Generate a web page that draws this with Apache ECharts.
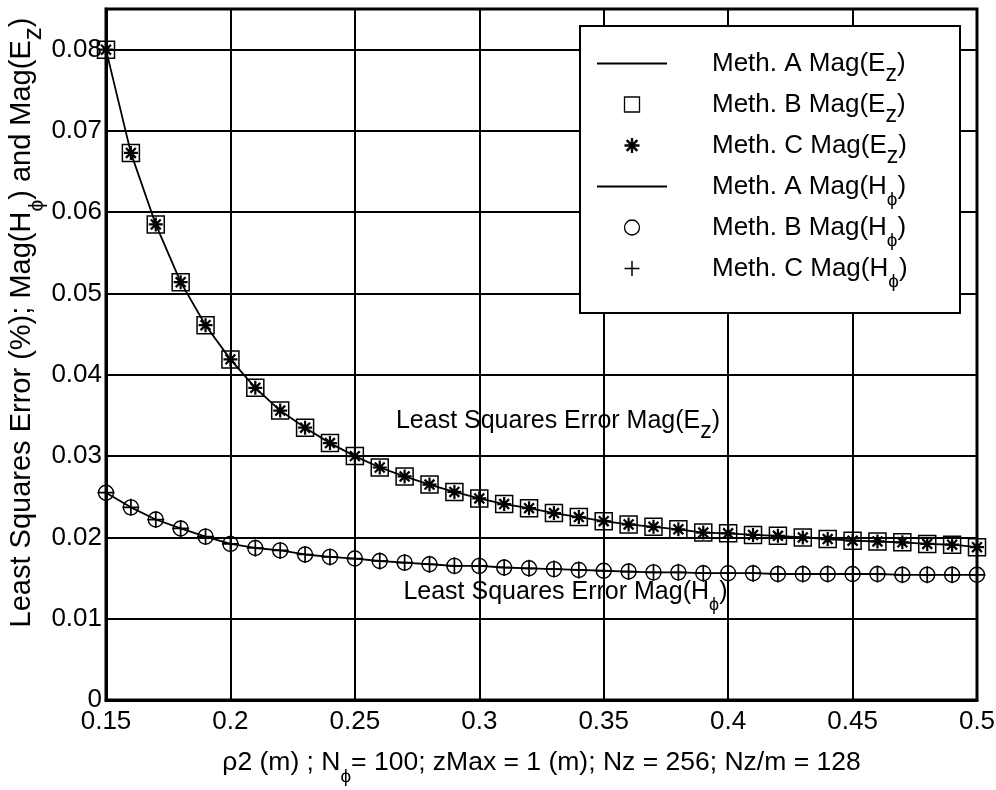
<!DOCTYPE html>
<html>
<head>
<meta charset="utf-8">
<script src="https://cdn.jsdelivr.net/npm/echarts@6/dist/echarts.min.js"></script>
<style>
  html, body { margin: 0; padding: 0; background: #fff; }
  #chart { width: 996px; height: 790px; }
</style>
</head>
<body>
<div id="chart"></div>
<script>
// outer radius rho2 (m)
const rho2 = [0.15, 0.16, 0.17, 0.18, 0.19, 0.20, 0.21, 0.22, 0.23, 0.24, 0.25, 0.26,
              0.27, 0.28, 0.29, 0.30, 0.31, 0.32, 0.33, 0.34, 0.35, 0.36, 0.37, 0.38,
              0.39, 0.40, 0.41, 0.42, 0.43, 0.44, 0.45, 0.46, 0.47, 0.48, 0.49, 0.50];

// least squares error of Mag(Ez)
const magEz = [0.0800, 0.0673, 0.0585, 0.0514, 0.0461, 0.0419, 0.0384, 0.0356, 0.0335, 0.0316, 0.0300, 0.0286,
               0.0275, 0.0265, 0.0256, 0.0248, 0.0241, 0.0236, 0.0230, 0.0225, 0.0220, 0.0216, 0.0213, 0.0210,
               0.0206, 0.0205, 0.0203, 0.0202, 0.0200, 0.0198, 0.0196, 0.0195, 0.0194, 0.0192, 0.0191, 0.0188];

// least squares error of Mag(Hphi)
const magHphi = [0.0255, 0.0237, 0.0222, 0.0211, 0.0201, 0.0192, 0.0187, 0.0184, 0.0179, 0.0176, 0.0174, 0.0171,
                 0.0169, 0.0167, 0.0165, 0.0165, 0.0163, 0.0162, 0.0161, 0.0160, 0.0159, 0.0158, 0.0157, 0.0157,
                 0.0156, 0.0156, 0.0156, 0.0155, 0.0155, 0.0155, 0.0155, 0.0155, 0.0154, 0.0154, 0.0154, 0.0154];

const seriesNames = ['Meth. A Mag(Ez)', 'Meth. B Mag(Ez)', 'Meth. C Mag(Ez)',
                     'Meth. A Mag(Hphi)', 'Meth. B Mag(Hphi)', 'Meth. C Mag(Hphi)'];
const legendLabels = ['Meth. A Mag(E{z|z})', 'Meth. B Mag(E{z|z})', 'Meth. C Mag(E{z|z})',
                      'Meth. A Mag(H{phi|ϕ})', 'Meth. B Mag(H{phi|ϕ})', 'Meth. C Mag(H{phi|ϕ})'];

const xAxisTitle = 'ρ2 (m) ; N{phi|ϕ}= 100; zMax = 1 (m); Nz = 256; Nz/m = 128';
const yAxisTitle = 'Least Squares Error (%); Mag(H{phi|ϕ}) and Mag(E{z|z})';
const noteEz = { pos: [0.2665, 0.0343], text: 'Least Squares Error Mag(E{z|z})' };
const noteHphi = { pos: [0.2695, 0.0133], text: 'Least Squares Error Mag(H{phi|ϕ})' };

const FONT = '"Liberation Sans", Arial, Helvetica, sans-serif';

// filled marker outlines
const ASTERISK = 'path://M8.4 0L11.6 0L11.6 20L8.4 20Z M0 8.4L20 8.4L20 11.6L0 11.6Z ' +
  'M1.8 4.1L4.1 1.8L18.2 15.9L15.9 18.2Z M4.1 18.2L1.8 15.9L15.9 1.8L18.2 4.1Z';
const PLUS = 'path://M9.0 0L11.0 0L11.0 20L9.0 20Z M0 9.0L20 9.0L20 11.0L0 11.0Z';
const LINE_ICON = 'path://M0 0H70V1.8H0Z';
const SQUARE_ICON = 'path://M0 0H20V20H0Z';

const pairs = ys => rho2.map((x, i) => [x, ys[i]]);

// wrap plain runs of a label in the {m|...} style so every run has an explicit line box
const wrapMain = s => s.split(/(\{[a-z]+\|[^}]*\})/).filter(Boolean)
  .map(p => (p.charAt(0) === '{' ? p : '{m|' + p + '}')).join('');

// line box tall enough to hold the lowered subscripts
const lineFor = size => Math.ceil(size * 1.77);

// subscripts: a short token box pinned to the bottom of the line drops the glyph below the baseline
const richFor = size => {
  const line = lineFor(size);
  return {
    m: { fontSize: size, lineHeight: line, fontFamily: FONT, color: '#000' },
    z: { fontSize: Math.round(size * 0.9), lineHeight: line, height: line - size * 0.84,
         verticalAlign: 'bottom', fontFamily: FONT, color: '#000' },
    phi: { fontSize: Math.round(size * 0.72), lineHeight: line, height: line - size * 1.04,
           verticalAlign: 'bottom', fontFamily: FONT, color: '#000' }
  };
};

const chart = echarts.init(document.getElementById('chart'), null, { renderer: 'canvas' });

chart.setOption({
  animation: false,
  backgroundColor: '#fff',
  textStyle: { fontFamily: FONT },
  grid: {
    left: 106, right: 19, top: 9, bottom: 90,
    show: true, borderColor: '#000', borderWidth: 3,
    containLabel: false, outerBoundsMode: 'none'
  },
  graphic: [{
    type: 'rect', z: 3, left: 579, top: 25,
    shape: { width: 380, height: 287 },
    style: { fill: '#fff', stroke: '#000', lineWidth: 2 }
  }],
  legend: {
    orient: 'vertical', left: 597, top: 40, padding: 0, z: 5,
    itemWidth: 70, itemHeight: 15, itemGap: 41 - lineFor(26),
    selectedMode: false,
    data: [
      { name: seriesNames[0], icon: LINE_ICON },
      { name: seriesNames[1], icon: SQUARE_ICON, itemStyle: { color: 'rgba(0,0,0,0)', borderColor: '#000', borderWidth: 1.3 } },
      { name: seriesNames[2], icon: ASTERISK },
      { name: seriesNames[3], icon: LINE_ICON },
      { name: seriesNames[4], icon: 'circle', itemStyle: { color: 'rgba(0,0,0,0)', borderColor: '#000', borderWidth: 1.3 } },
      { name: seriesNames[5], icon: PLUS }
    ],
    formatter: name => wrapMain(legendLabels[seriesNames.indexOf(name)]),
    textStyle: {
      fontSize: 26, lineHeight: lineFor(26), color: '#000', fontFamily: FONT,
      padding: [0, 0, 0, 40], rich: richFor(26)
    }
  },
  xAxis: {
    type: 'value', min: 0.15, max: 0.5, interval: 0.05,
    name: wrapMain(xAxisTitle), nameLocation: 'middle', nameGap: 39, nameMoveOverlap: false,
    nameTextStyle: { fontSize: 26.5, lineHeight: lineFor(26.5), color: '#000', fontFamily: FONT, rich: richFor(26.5) },
    axisLine: { show: true, lineStyle: { color: '#000', width: 3 } },
    axisTick: { show: false },
    axisLabel: {
      fontSize: 26, color: '#000', margin: 9, fontFamily: FONT,
      formatter: v => String(parseFloat(v.toFixed(3)))
    },
    splitLine: { show: true, lineStyle: { color: '#000', width: 2 } }
  },
  yAxis: {
    type: 'value', min: 0, max: 0.085, interval: 0.01,
    name: wrapMain(yAxisTitle), nameLocation: 'middle', nameGap: 58, nameMoveOverlap: false,
    nameTextStyle: {
      fontSize: 29, lineHeight: lineFor(29), color: '#000', fontFamily: FONT,
      padding: [0, 0, 0, 64], rich: richFor(29)
    },
    axisLine: { show: true, lineStyle: { color: '#000', width: 3 } },
    axisTick: { show: false },
    axisLabel: {
      fontSize: 26, color: '#000', margin: 4, fontFamily: FONT, showMaxLabel: false,
      formatter: v => String(parseFloat(v.toFixed(3)))
    },
    splitLine: { show: true, lineStyle: { color: '#000', width: 2 } }
  },
  series: [
    {
      name: seriesNames[0], type: 'line', data: pairs(magEz), symbol: 'none', z: 2,
      lineStyle: { color: '#000', width: 1.8 }, itemStyle: { color: '#000' }
    },
    {
      name: seriesNames[1], type: 'scatter', data: pairs(magEz), symbol: 'rect', symbolSize: 17, z: 3,
      itemStyle: { color: 'rgba(0,0,0,0)', borderColor: '#000', borderWidth: 1.5, opacity: 1 }
    },
    {
      name: seriesNames[2], type: 'scatter', data: pairs(magEz), symbol: ASTERISK, symbolSize: 14, z: 4,
      itemStyle: { color: '#000', opacity: 1 }
    },
    {
      name: seriesNames[3], type: 'line', data: pairs(magHphi), symbol: 'none', z: 2,
      lineStyle: { color: '#000', width: 1.8 }, itemStyle: { color: '#000' }
    },
    {
      name: seriesNames[4], type: 'scatter', data: pairs(magHphi), symbol: 'circle', symbolSize: 15, z: 3,
      itemStyle: { color: 'rgba(0,0,0,0)', borderColor: '#000', borderWidth: 1.4, opacity: 1 }
    },
    {
      name: seriesNames[5], type: 'scatter', data: pairs(magHphi), symbol: PLUS, symbolSize: 17, z: 4,
      itemStyle: { color: '#000', opacity: 1 }
    },
    {
      name: 'notes', type: 'scatter', silent: true, symbolSize: 0, z: 5,
      itemStyle: { opacity: 1 },
      data: [noteEz.pos, noteHphi.pos],
      label: {
        show: true, position: 'right', distance: 0, opacity: 1,
        fontSize: 25, lineHeight: lineFor(25), color: '#000', fontFamily: FONT, rich: richFor(25),
        formatter: p => wrapMain(p.dataIndex === 0 ? noteEz.text : noteHphi.text)
      }
    }
  ]
});
</script>
</body>
</html>
